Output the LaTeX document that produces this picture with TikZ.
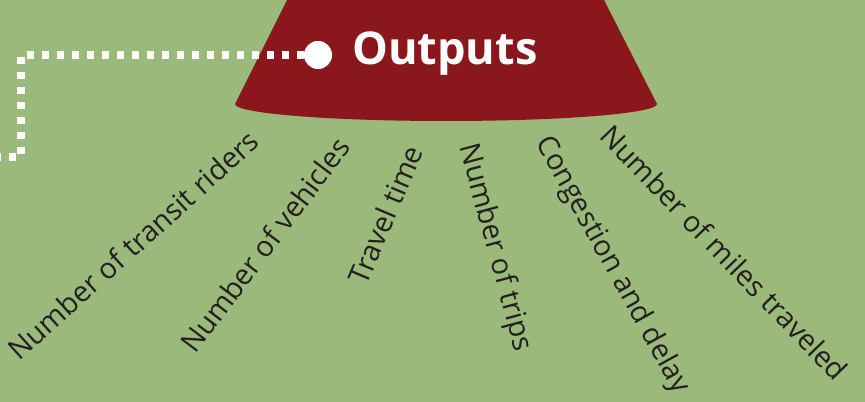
\documentclass[tikz,border=0pt]{standalone}
\usepackage{fontspec}
\setmainfont{Open Sans}
\usepackage{tikz}
\usetikzlibrary{arrows, arrows.meta}
\definecolor{bggreen}{RGB}{155,185,122}
\definecolor{conered}{RGB}{138,23,27}
\definecolor{inkgray}{RGB}{35,31,32}
\tikzset{label/.style = {inner sep = 0pt, text = inkgray, font = \fontsize{24.5}{29}\selectfont}}
\tikzset{dotline/.style = {draw = white, line width = 6pt, dash pattern = on 6pt off 6.8pt}}
\tikzset{dot/.style = {shape = circle, fill = white, inner sep = 0pt, minimum size = 24pt}}
\begin{document}
\begin{tikzpicture}[x = 0.03cm, y = -0.03cm]
				\fill[bggreen] (0, 0) rectangle (865, 402);
				\useasboundingbox (0, 0) rectangle (865, 402);
	
				\fill[conered] (288, -2) -- (235, 104)
					.. controls (235, 113.4) and (329.5, 121) .. (446, 121)
					.. controls (562.5, 121) and (657, 113.4) .. (657, 104)
					-- (603, -2) -- cycle;
	
				\node[dot] (outdot) at (318, 55) {};
				\node[anchor = west, inner sep = 0pt, text = white, font = \bfseries\fontsize{38.5}{46}\selectfont] (outputs) at (352, 54) {Outputs};
				\coordinate (lineend) at (-6, 157);
				\coordinate (bend) at (21, 157);
				\draw[dotline] (lineend) -- (bend) |- (outdot);
	
				\node[label, rotate = 42, anchor = east] (riders) at (254, 136) {Number of transit riders};
				\node[label, rotate = 53, anchor = east] (vehicles) at (343, 141) {Number of vehicles};
				\node[label, rotate = 67, anchor = east] (ttime) at (414, 147) {Travel time};
				\node[label, rotate = -75, anchor = west] (trips) at (467, 144) {Number of trips};
				\node[label, rotate = -61, anchor = west] (delay) at (542, 139) {Congestion and delay};
				\node[label, rotate = -46, anchor = west] (miles) at (606, 130) {Number of miles traveled};
			\end{tikzpicture}
\end{document}
